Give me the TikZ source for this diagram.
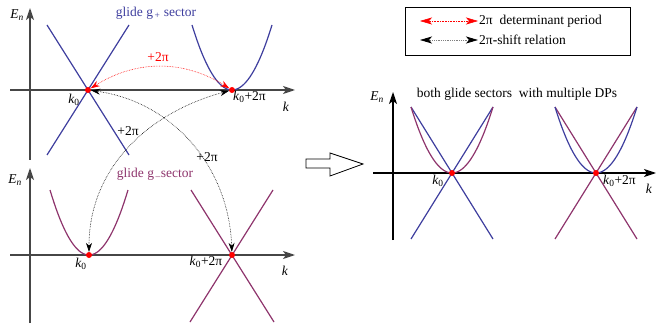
\documentclass[tikz,border=0pt]{standalone}
\usepackage{fontspec}
\setmainfont{Liberation Serif}
\usetikzlibrary{arrows.meta,positioning,calc}
\definecolor{gplus}{RGB}{62,62,158}
\definecolor{gminus}{RGB}{142,52,108}
\definecolor{dpred}{RGB}{255,0,0}
\definecolor{axgray}{RGB}{70,70,70}
\newcommand{\kz}{\textit{k}\textsubscript{0}}
\newcommand{\En}{\textit{E}\textsubscript{\textit{n}}}

\begin{document}
\begin{tikzpicture}[x=1pt,y=1pt,
    axis/.style={line width=1.3pt,-{Stealth[length=12pt,width=8pt,inset=3pt]}},
    bandp/.style={gplus,line width=1.2pt},
    bandm/.style={gminus,line width=1.2pt},
    dp/.style={circle,fill=dpred,inner sep=0pt,minimum size=6pt},
    lbl/.style={font=\fontsize{13.5}{16}\selectfont,inner sep=1pt},
    shiftarrow/.style={densely dotted,line width=0.6pt,{Stealth[length=9pt,width=6pt]}-{Stealth[length=9pt,width=6pt]}},
    periodarrow/.style={shiftarrow,dpred},
    legendtip/.style={{Stealth[length=12pt,width=7pt,inset=3pt,#1]}-{Stealth[length=12pt,width=7pt,inset=3pt,#1]}},
  ]
  \useasboundingbox (0,0) rectangle (656,-326);
  % Axes
  \draw[axis,axgray] (30,-160) -- (30,-8);
  \draw[axis,axgray] (10,-90) -- (295,-90);
  \draw[axis,axgray] (30,-323) -- (30,-168);
  \draw[axis,axgray] (10,-255) -- (295,-255);
  \draw[axis] (393,-240) -- (393,-92);
  \draw[axis] (373,-173) -- (656,-173);
  % Glide g+ sector (top)
  \draw[bandp] (47,-25) -- (129,-155);
  \draw[bandp] (129,-25) -- (47,-155);
  \draw[bandp,domain=-40:40,samples=41,shift={(232,-90)}] plot (\x,{65*(\x/40)^2});
  % Glide g- sector (bottom)
  \draw[bandm,domain=-39:39,samples=41,shift={(89,-255)}] plot (\x,{65*(\x/39)^2});
  \draw[bandm] (191,-190) -- (274,-322);
  \draw[bandm] (273,-190) -- (190,-322);
  % Both sectors (right)
  \draw[bandp] (411,-107) -- (493,-239);
  \draw[bandp] (493,-107) -- (411,-239);
  \draw[bandm,domain=-41:41,samples=41,shift={(452,-173)}] plot (\x,{66*(\x/41)^2});
  \draw[bandm] (555,-107) -- (637,-239);
  \draw[bandm] (637,-107) -- (555,-239);
  \draw[bandp,domain=-41:41,samples=41,shift={(596,-173)}] plot (\x,{66*(\x/41)^2});
  % Dirac points
  \node[dp] (tkA) at (88,-90) {};
  \node[dp] (tkB) at (232,-90) {};
  \node[dp] (bkA) at (89,-255) {};
  \node[dp] (bkB) at (232,-255) {};
  \node[dp] (rkA) at (452,-173) {};
  \node[dp] (rkB) at (596,-173) {};
  % Relations between the sectors
  \draw[periodarrow] (tkA) to[bend left=32] (tkB);
  \draw[shiftarrow] (tkA) to[out=-8,in=92] (bkB);
  \draw[shiftarrow] (tkB) to[out=195,in=90] (bkA);
  \node[lbl,dpred] (lp1) at (158,-57) {+2π};
  \node[lbl] (lp2) at (128,-131) {+2π};
  \node[lbl] (lp3) at (207,-157) {+2π};
  % Labels
  \node[lbl,gplus] (secp) at (156,-13) {glide g\textsubscript{\,+} sector};
  \node[lbl,gminus] (secm) at (155,-174) {glide g\textsubscript{\,--}sector};
  \node[lbl] (both) at (517,-94) {both glide sectors\ \ with multiple DPs};
  \node[lbl] (e1) at (17,-15) {\En};
  \node[lbl] (e2) at (15,-180) {\En};
  \node[lbl] (e3) at (377,-97) {\En};
  \node[lbl] (x1) at (286,-107) {\textit{k}};
  \node[lbl] (x2) at (285,-271) {\textit{k}};
  \node[lbl] (x3) at (649,-189) {\textit{k}};
  \node[lbl] (t1) at (74,-100) {\kz};
  \node[lbl,anchor=west] (t2) at (232,-97) {\kz+2π};
  \node[lbl] (b1) at (81,-264) {\kz};
  \node[lbl] (b2) at (206,-262) {\kz+2π};
  \node[lbl] (r1) at (438,-181) {\kz};
  \node[lbl,anchor=west] (r2) at (602,-181) {\kz+2π};
  % Hollow arrow
  \draw[line width=0.8pt] (306,-159) -- (330,-159) -- (330,-153) -- (363,-164)
    -- (330,-176) -- (330,-168) -- (306,-168) -- cycle;
  % Legend
  \draw[line width=0.8pt] (405,-7) rectangle (630,-55);
  \coordinate (lgA) at (420,-21);
  \coordinate (lgB) at (478,-21);
  \coordinate (lgC) at (420,-40);
  \coordinate (lgD) at (478,-40);
  \draw[densely dotted,line width=0.6pt,dpred,legendtip=dpred] (lgA) -- (lgB);
  \draw[densely dotted,line width=0.8pt,gray,legendtip=black] (lgC) -- (lgD);
  \node[lbl,anchor=west] (lgt1) at (lgB) {2π\ \ determinant period};
  \node[lbl,anchor=west] (lgt2) at (lgD) {2π\textbf{-}shift relation};
\end{tikzpicture}
\end{document}
